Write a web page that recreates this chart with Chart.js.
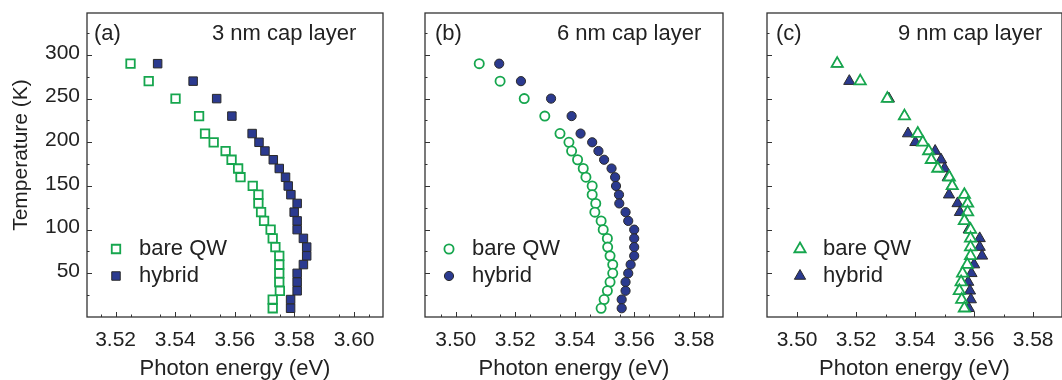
<!DOCTYPE html>
<html>
<head>
<meta charset="utf-8">
<script src="https://cdn.jsdelivr.net/npm/chart.js@4.4.0/dist/chart.umd.min.js"></script>
<style>
  body { margin: 0; background: #fff; }
  #wrap { position: relative; width: 1062px; height: 380px; overflow: hidden; }
  .pan { position: absolute; top: 0; height: 380px; }
</style>
</head>
<body>
<div id="wrap">
  <div class="pan" style="left:0;width:390px"><canvas id="chartA"></canvas></div>
  <div class="pan" style="left:390px;width:340px"><canvas id="chartB"></canvas></div>
  <div class="pan" style="left:730px;width:332px"><canvas id="chartC"></canvas></div>
</div>
<script>
// temperatures (K), same for every series
const temps = [290, 270, 250, 230, 210, 200, 190, 180, 170, 160, 150, 140, 130, 120, 110, 100, 90, 80, 70, 60, 50, 40, 30, 20, 10];

// (a) 3 nm cap layer
const bareA = [3.5250, 3.5311, 3.5401, 3.5480, 3.5500, 3.5529, 3.5569, 3.5589, 3.5611, 3.5619, 3.5660, 3.5679, 3.5679, 3.5688, 3.5698, 3.5720, 3.5727, 3.5736, 3.5749, 3.5749, 3.5749, 3.5749, 3.5751, 3.5727, 3.5727];
const hybA  = [3.5341, 3.5460, 3.5539, 3.5590, 3.5658, 3.5681, 3.5701, 3.5729, 3.5749, 3.5770, 3.5779, 3.5788, 3.5809, 3.5799, 3.5809, 3.5809, 3.5830, 3.5841, 3.5841, 3.5830, 3.5809, 3.5809, 3.5809, 3.5787, 3.5787];
// (b) 6 nm cap layer
const bareB = [3.5079, 3.5149, 3.5230, 3.5299, 3.5350, 3.5380, 3.5389, 3.5409, 3.5428, 3.5437, 3.5458, 3.5458, 3.5470, 3.5467, 3.5488, 3.5495, 3.5509, 3.5510, 3.5518, 3.5527, 3.5527, 3.5518, 3.5509, 3.5498, 3.5488];
const hybB  = [3.5146, 3.5219, 3.5320, 3.5389, 3.5419, 3.5458, 3.5479, 3.5498, 3.5523, 3.5535, 3.5538, 3.5548, 3.5549, 3.5570, 3.5579, 3.5599, 3.5599, 3.5599, 3.5599, 3.5587, 3.5579, 3.5570, 3.5570, 3.5557, 3.5557];
// (c) 9 nm cap layer
const bareC = [3.5136, 3.5214, 3.5306, 3.5364, 3.5409, 3.5426, 3.5446, 3.5455, 3.5477, 3.5516, 3.5526, 3.5567, 3.5578, 3.5578, 3.5567, 3.5588, 3.5588, 3.5588, 3.5588, 3.5577, 3.5561, 3.5556, 3.5550, 3.5558, 3.5567];
const hybC  = [3.5136, 3.5177, 3.5311, 3.5364, 3.5376, 3.5401, 3.5468, 3.5488, 3.5500, 3.5511, 3.5525, 3.5515, 3.5544, 3.5552, 3.5569, 3.5582, 3.5619, 3.5619, 3.5627, 3.5600, 3.5591, 3.5580, 3.5586, 3.5589, 3.5582];

// tick labels
const xTicksA = [3.52, 3.54, 3.56, 3.58, 3.60];
const xTicksBC = [3.50, 3.52, 3.54, 3.56, 3.58];
const yTicks = [50, 100, 150, 200, 250, 300];
const yMinor = [25, 75, 125, 175, 225, 275, 325];

const FONT = 'Liberation Sans, Arial, Helvetica, sans-serif';
const INK = '#222';
const GREEN = '#16a64e';
const NAVY = '#2b3a8f';

// frame, inward ticks, panel texts and legend
const panelDeco = {
    id: 'panelDeco',
    beforeDatasetsDraw(chart, args, o) {
        const { ctx, chartArea: a, scales: { x, y } } = chart;
        ctx.save();
        ctx.strokeStyle = '#333';
        ctx.lineWidth = 1.3;
        ctx.strokeRect(a.left, a.top, a.width, a.height);
        ctx.lineWidth = 1;
        ctx.beginPath();
        o.xMajor.forEach(v => {
            const px = Math.round(x.getPixelForValue(v)) + 0.5;
            ctx.moveTo(px, a.bottom); ctx.lineTo(px, a.bottom - 5);
        });
        o.xMinor.forEach(v => {
            const px = Math.round(x.getPixelForValue(v)) + 0.5;
            ctx.moveTo(px, a.bottom); ctx.lineTo(px, a.bottom - 2.5);
        });
        yTicks.forEach(v => {
            const py = Math.round(y.getPixelForValue(v)) + 0.5;
            ctx.moveTo(a.left, py); ctx.lineTo(a.left + 5, py);
        });
        yMinor.forEach(v => {
            const py = Math.round(y.getPixelForValue(v)) + 0.5;
            ctx.moveTo(a.left, py); ctx.lineTo(a.left + 2.5, py);
        });
        ctx.stroke();
        ctx.restore();
    },
    afterDraw(chart, args, o) {
        const { ctx, chartArea: a } = chart;
        ctx.save();
        ctx.fillStyle = INK;
        ctx.font = '22px ' + FONT;
        ctx.textAlign = 'left';
        ctx.textBaseline = 'alphabetic';
        ctx.fillText(o.tag, a.left + o.tagDx, 40);
        ctx.fillText(o.caption, a.left + o.capDx, 40);

        // legend
        const rows = [249, 276];
        chart.data.datasets.forEach((ds, i) => {
            ctx.save();
            ctx.fillStyle = ds.pointBackgroundColor;
            ctx.strokeStyle = ds.pointBorderColor;
            ctx.lineWidth = ds.pointBorderWidth;
            Chart.helpers.drawPoint(ctx, {
                pointStyle: ds.pointStyle, radius: ds.pointRadius,
                borderWidth: ds.pointBorderWidth, rotation: 0
            }, a.left + o.legDx, rows[i]);
            ctx.restore();
            ctx.fillStyle = INK;
            ctx.textBaseline = 'middle';
            ctx.fillText(ds.label, a.left + o.legTextDx, rows[i]);
        });

        if (o.yTitle) {
            ctx.font = '21px ' + FONT;
            ctx.translate(21.7, 155);
            ctx.rotate(-Math.PI / 2);
            ctx.textAlign = 'center';
            ctx.textBaseline = 'middle';
            ctx.fillText('Temperature (K)', 0, 0);
        }
        ctx.restore();
    }
};

function toPoints(vals) {
    return temps.map((t, i) => ({ x: vals[i], y: t }));
}

function makePanel(id, bare, hyb, style, radius, xMin, xMax, xTicks, yWidth, padRight, deco) {
    new Chart(document.getElementById(id), {
        type: 'scatter',
        data: {
            datasets: [
                {
                    label: 'bare QW',
                    data: toPoints(bare),
                    pointStyle: style,
                    pointRadius: radius,
                    pointBorderWidth: 1.8,
                    pointBackgroundColor: '#fff',
                    pointBorderColor: GREEN,
                    order: 0
                },
                {
                    label: 'hybrid',
                    data: toPoints(hyb),
                    pointStyle: style,
                    pointRadius: radius,
                    pointBorderWidth: 1,
                    pointBackgroundColor: NAVY,
                    pointBorderColor: '#2a2a2a',
                    order: 1
                }
            ]
        },
        options: {
            responsive: true,
            maintainAspectRatio: false,
            animation: false,
            events: [],
            layout: { autoPadding: false, padding: { top: 13, right: padRight, bottom: 0, left: 0 } },
            plugins: {
                legend: { display: false },
                tooltip: { enabled: false },
                panelDeco: deco
            },
            scales: {
                x: {
                    type: 'linear',
                    min: xMin,
                    max: xMax,
                    afterBuildTicks: s => { s.ticks = xTicks.map(v => ({ value: v })); },
                    afterFit: s => { s.height = 63; s.paddingLeft = 0; s.paddingRight = 0; },
                    grid: { display: false, drawTicks: false },
                    border: { display: false },
                    ticks: {
                        padding: 11,
                        color: INK,
                        font: { family: FONT, size: 21 },
                        maxRotation: 0,
                        autoSkip: false,
                        callback: v => Number(v).toFixed(2)
                    },
                    title: {
                        display: true,
                        text: 'Photon energy (eV)',
                        color: INK,
                        font: { family: FONT, size: 22, lineHeight: 1 },
                        padding: { top: 0, bottom: 0 }
                    }
                },
                y: {
                    type: 'linear',
                    min: 0,
                    max: 348,
                    afterBuildTicks: s => { s.ticks = yTicks.map(v => ({ value: v })); },
                    afterFit: s => { s.width = yWidth; s.paddingTop = 0; s.paddingBottom = 0; },
                    grid: { display: false, drawTicks: false },
                    border: { display: false },
                    ticks: {
                        display: deco.yTitle,
                        padding: 7,
                        labelOffset: -2,
                        color: INK,
                        font: { family: FONT, size: 21 }
                    }
                }
            }
        },
        plugins: [panelDeco]
    });
}

makePanel('chartA', bareA, hybA, 'rect', 6, 3.5104, 3.6097, xTicksA, 87, 7,
    { xMajor: xTicksA, xMinor: [3.515, 3.525, 3.535, 3.545, 3.555, 3.565, 3.575, 3.585, 3.595, 3.605],
      tag: '(a)', caption: '3 nm cap layer', tagDx: 7, capDx: 125, legDx: 29, legTextDx: 52, yTitle: true });

makePanel('chartB', bareB, hybB, 'circle', 4.6, 3.4897, 3.5897, xTicksBC, 35, 7,
    { xMajor: xTicksBC, xMinor: [3.495, 3.505, 3.515, 3.525, 3.535, 3.545, 3.555, 3.565, 3.575, 3.585],
      tag: '(b)', caption: '6 nm cap layer', tagDx: 10, capDx: 132, legDx: 24, legTextDx: 47, yTitle: false });

makePanel('chartC', bareC, hybC, 'triangle', 6.5, 3.4898, 3.5898, xTicksBC, 37, 0,
    { xMajor: xTicksBC, xMinor: [3.51, 3.53, 3.55, 3.57],
      tag: '(c)', caption: '9 nm cap layer', tagDx: 9, capDx: 131, legDx: 33, legTextDx: 56, yTitle: false });
</script>
</body>
</html>
